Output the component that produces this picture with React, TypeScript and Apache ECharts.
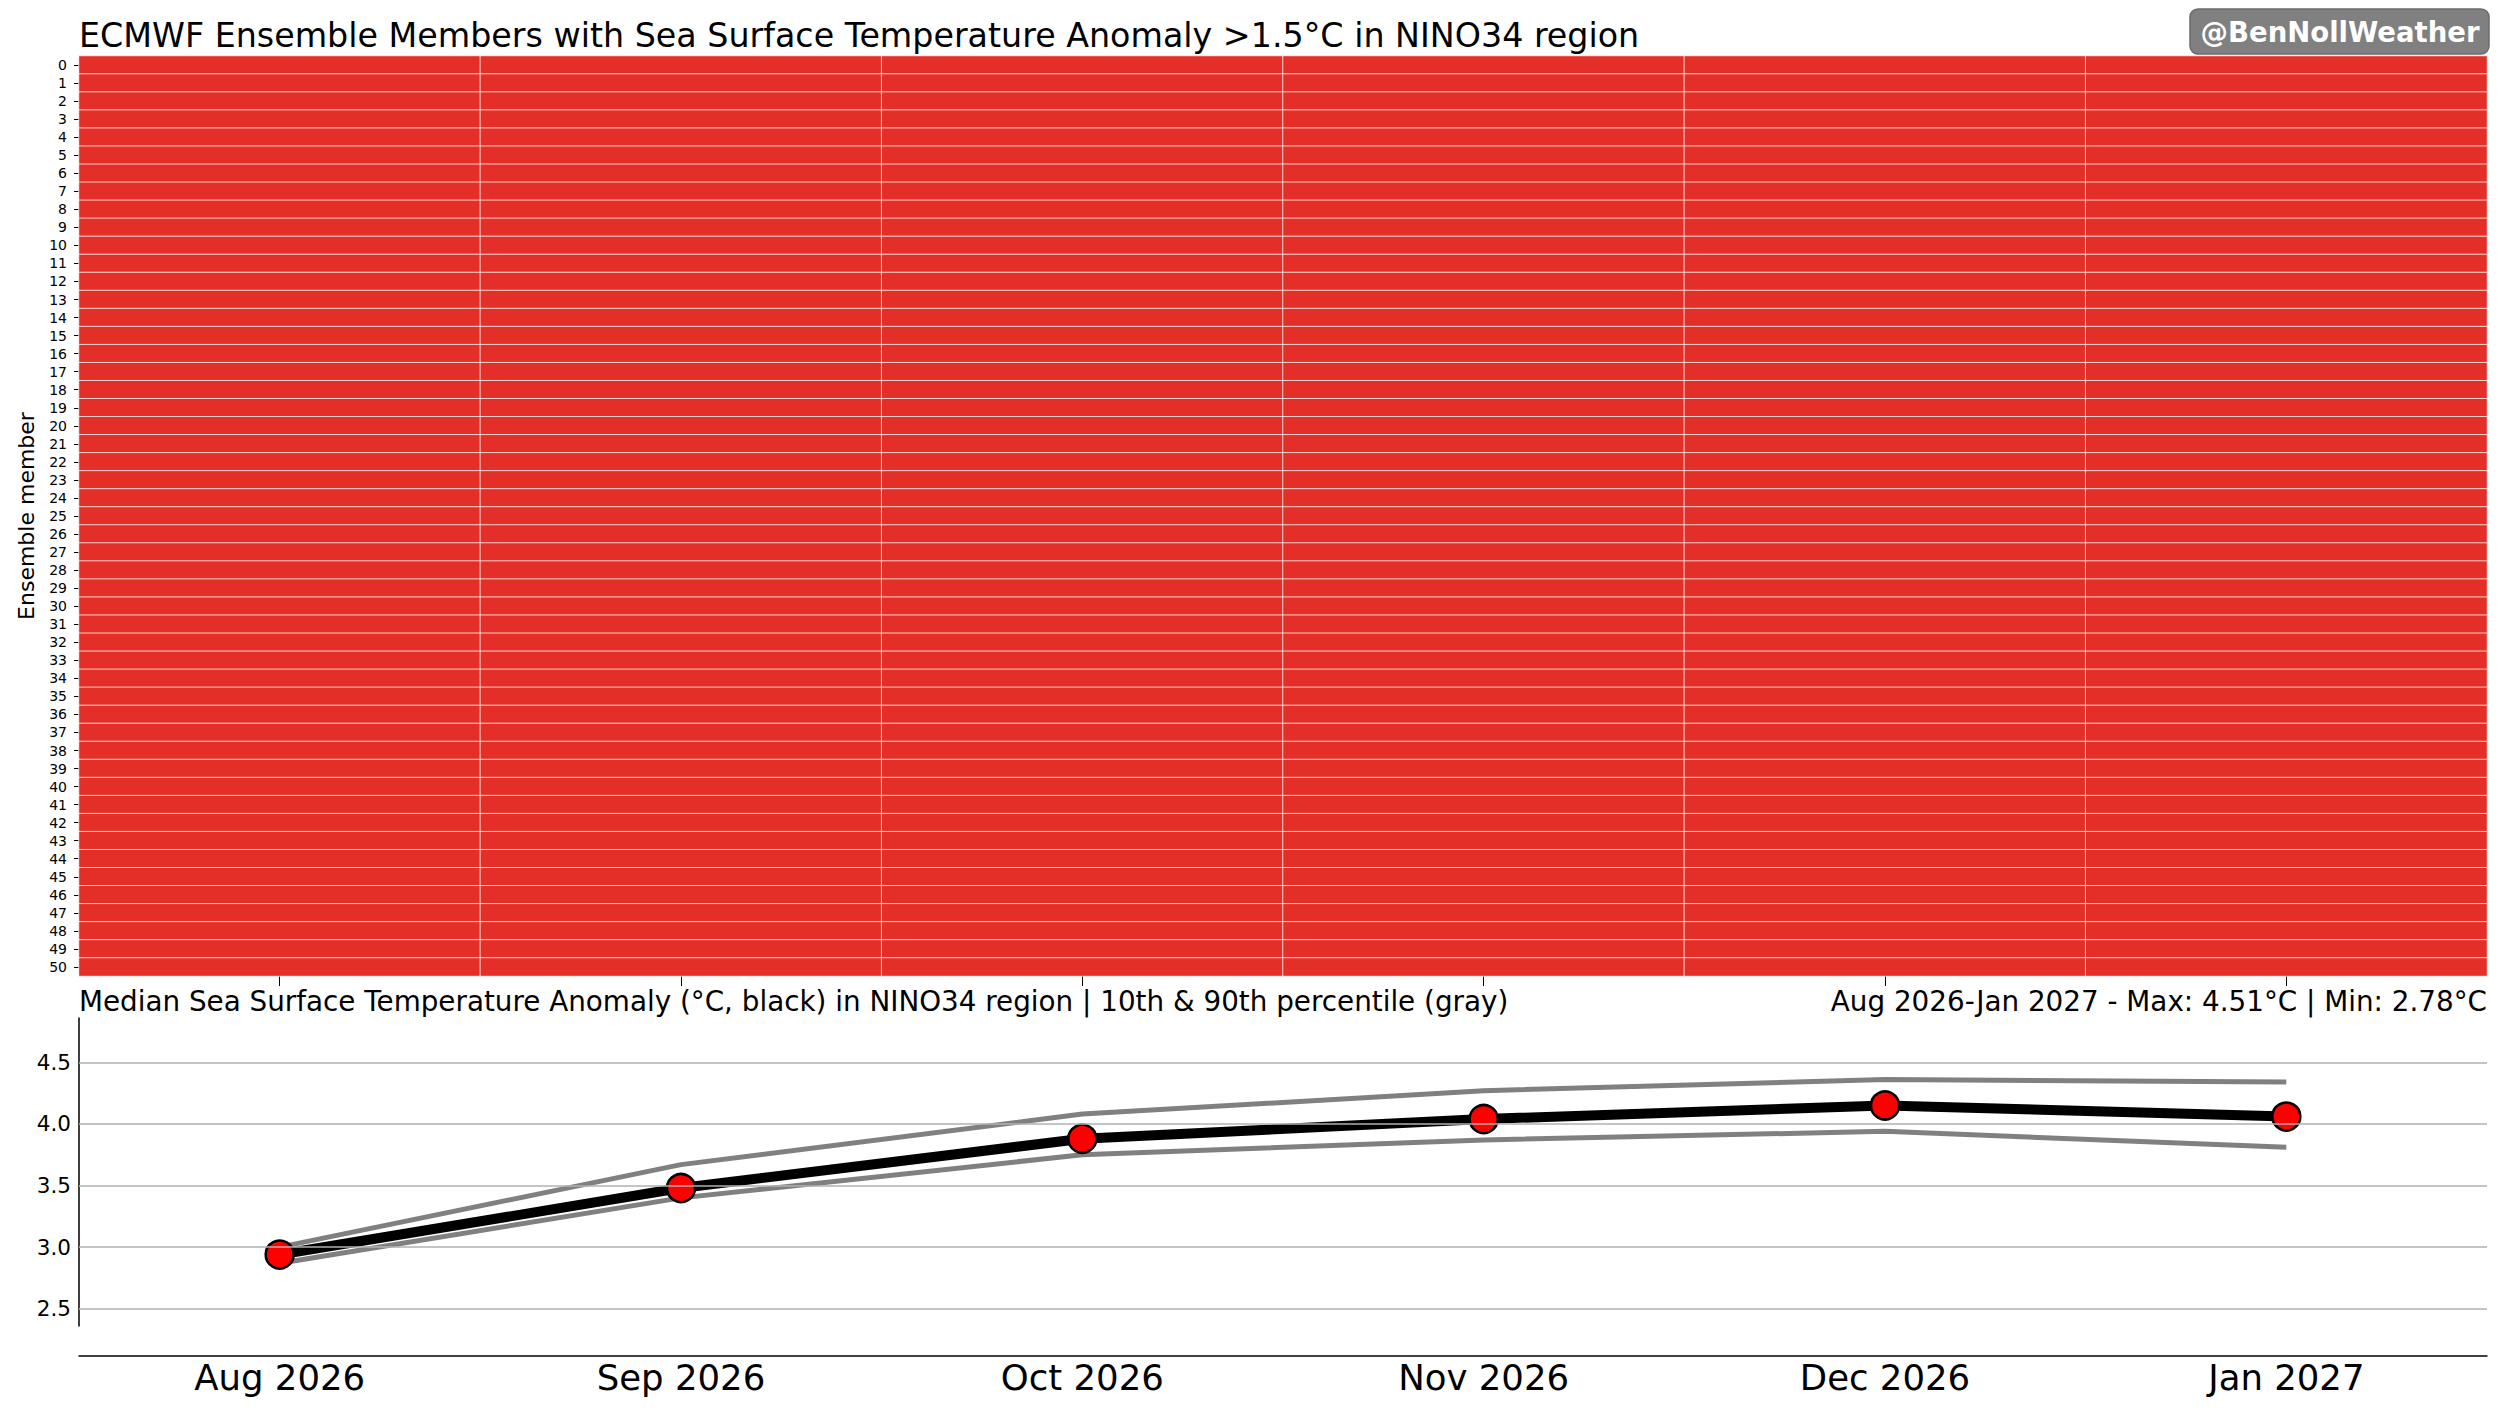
import React, { useEffect, useRef } from "react";
import * as echarts from "echarts";

const months = ["Aug 2026", "Sep 2026", "Oct 2026", "Nov 2026", "Dec 2026", "Jan 2027"];
const members = [
  "0", "1", "2", "3", "4", "5", "6", "7", "8", "9",
  "10", "11", "12", "13", "14", "15", "16", "17", "18", "19",
  "20", "21", "22", "23", "24", "25", "26", "27", "28", "29",
  "30", "31", "32", "33", "34", "35", "36", "37", "38", "39",
  "40", "41", "42", "43", "44", "45", "46", "47", "48", "49", "50",
];
// 1 = member exceeds +1.5°C in that month
const exceedance: number[][] = [
  [1, 1, 1, 1, 1, 1], [1, 1, 1, 1, 1, 1], [1, 1, 1, 1, 1, 1], [1, 1, 1, 1, 1, 1],
  [1, 1, 1, 1, 1, 1], [1, 1, 1, 1, 1, 1], [1, 1, 1, 1, 1, 1], [1, 1, 1, 1, 1, 1],
  [1, 1, 1, 1, 1, 1], [1, 1, 1, 1, 1, 1], [1, 1, 1, 1, 1, 1], [1, 1, 1, 1, 1, 1],
  [1, 1, 1, 1, 1, 1], [1, 1, 1, 1, 1, 1], [1, 1, 1, 1, 1, 1], [1, 1, 1, 1, 1, 1],
  [1, 1, 1, 1, 1, 1], [1, 1, 1, 1, 1, 1], [1, 1, 1, 1, 1, 1], [1, 1, 1, 1, 1, 1],
  [1, 1, 1, 1, 1, 1], [1, 1, 1, 1, 1, 1], [1, 1, 1, 1, 1, 1], [1, 1, 1, 1, 1, 1],
  [1, 1, 1, 1, 1, 1], [1, 1, 1, 1, 1, 1], [1, 1, 1, 1, 1, 1], [1, 1, 1, 1, 1, 1],
  [1, 1, 1, 1, 1, 1], [1, 1, 1, 1, 1, 1], [1, 1, 1, 1, 1, 1], [1, 1, 1, 1, 1, 1],
  [1, 1, 1, 1, 1, 1], [1, 1, 1, 1, 1, 1], [1, 1, 1, 1, 1, 1], [1, 1, 1, 1, 1, 1],
  [1, 1, 1, 1, 1, 1], [1, 1, 1, 1, 1, 1], [1, 1, 1, 1, 1, 1], [1, 1, 1, 1, 1, 1],
  [1, 1, 1, 1, 1, 1], [1, 1, 1, 1, 1, 1], [1, 1, 1, 1, 1, 1], [1, 1, 1, 1, 1, 1],
  [1, 1, 1, 1, 1, 1], [1, 1, 1, 1, 1, 1], [1, 1, 1, 1, 1, 1], [1, 1, 1, 1, 1, 1],
  [1, 1, 1, 1, 1, 1], [1, 1, 1, 1, 1, 1], [1, 1, 1, 1, 1, 1],
];
const medianSST = [2.94, 3.48, 3.88, 4.04, 4.15, 4.06];
const p10SST = [2.87, 3.4, 3.75, 3.87, 3.94, 3.81];
const p90SST = [3.0, 3.67, 4.08, 4.27, 4.36, 4.34];
const yTicks = [2.5, 3.0, 3.5, 4.0, 4.5];
const yMin = 2.36;
const yMax = 4.86;

const titleText = "ECMWF Ensemble Members with Sea Surface Temperature Anomaly >1.5°C in NINO34 region";
const subLeft = "Median Sea Surface Temperature Anomaly (°C, black) in NINO34 region | 10th & 90th percentile (gray)";
const subRight = "Aug 2026-Jan 2027 - Max: 4.51°C | Min: 2.78°C";
const badge = "@BenNollWeather";

const FONT = "'DejaVu Sans', 'Liberation Sans', sans-serif";

export default function App() {
  const ref = useRef<HTMLDivElement>(null);
  useEffect(() => {
    if (!ref.current) return;
    const chart = echarts.init(ref.current, null, { renderer: "svg" });
    const heatData: number[][] = [];
    exceedance.forEach((row, m) => {
      row.forEach((v, t) => heatData.push([t, m, v]));
    });
    const L = 79;
    const R = 2506 - 2487;
    chart.setOption({
      animation: false,
      textStyle: { fontFamily: FONT },
      grid: [
        { left: L, right: R, top: 56, height: 920 },
        { left: L, right: R, top: 1018, height: 308 },
      ],
      visualMap: {
        show: false,
        type: "piecewise",
        seriesIndex: 0,
        pieces: [
          { value: 1, color: "#e32f27" },
          { value: 0, color: "#ffffff" },
        ],
      },
      xAxis: [
        {
          gridIndex: 0,
          type: "category",
          data: months,
          axisLine: { show: false },
          axisTick: { show: true, alignWithLabel: true, length: 10, lineStyle: { color: "#000", width: 1 } },
          axisLabel: { show: false },
          splitLine: { show: false },
        },
        {
          gridIndex: 1,
          type: "category",
          data: months,
          boundaryGap: true,
          offset: 30,
          axisLine: { show: true, lineStyle: { color: "#000", width: 1.5 } },
          axisTick: { show: false },
          axisLabel: { color: "#000", fontSize: 35.5, fontFamily: FONT, margin: 3 },
          splitLine: { show: false },
        },
      ],
      yAxis: [
        {
          gridIndex: 0,
          type: "category",
          data: members,
          inverse: true,
          name: "Ensemble member",
          nameLocation: "middle",
          nameGap: 42,
          nameTextStyle: { color: "#000", fontSize: 22, fontFamily: FONT },
          axisLine: { show: false },
          axisTick: { show: true, alignWithLabel: true, length: 5, lineStyle: { color: "#000", width: 1 } },
          axisLabel: { color: "#000", fontSize: 14, interval: 0, margin: 12, fontFamily: FONT },
          splitLine: { show: false },
        },
        {
          gridIndex: 1,
          type: "value",
          min: yMin,
          max: yMax,
          axisLine: { show: true, lineStyle: { color: "#000", width: 1.5 } },
          axisTick: { show: false },
          axisLabel: { show: false },
          splitLine: { show: false },
        },
      ],
      series: [
        {
          type: "heatmap",
          xAxisIndex: 0,
          yAxisIndex: 0,
          data: heatData,
          itemStyle: { borderColor: "#ffffff", borderWidth: 0.75 },
          emphasis: { disabled: true },
        },
        {
          type: "line",
          name: "90th percentile",
          xAxisIndex: 1,
          yAxisIndex: 1,
          data: p90SST,
          symbol: "none",
          lineStyle: { color: "#808080", width: 5 },
          z: 2,
          markLine: {
            silent: true,
            symbol: ["none", "none"],
            animation: false,
            lineStyle: { type: "solid", color: "#b0b0b0", width: 1.5 },
            label: {
              show: true,
              position: "start",
              distance: 8,
              color: "#000",
              fontSize: 21.5,
              fontFamily: FONT,
              formatter: (p: any) => Number(p.value).toFixed(1),
            },
            data: yTicks.map((v) => ({ yAxis: v })),
          },
        },
        {
          type: "line",
          name: "10th percentile",
          xAxisIndex: 1,
          yAxisIndex: 1,
          data: p10SST,
          symbol: "none",
          lineStyle: { color: "#808080", width: 5 },
          z: 2,
        },
        {
          type: "line",
          name: "Median",
          xAxisIndex: 1,
          yAxisIndex: 1,
          data: medianSST,
          symbol: "circle",
          symbolSize: 28,
          showSymbol: true,
          lineStyle: { color: "#000", width: 10 },
          itemStyle: { color: "#ff0000", borderColor: "#000", borderWidth: 2.5 },
          z: 3,
        },
      ],
      graphic: [
        {
          type: "text",
          x: L,
          y: 35.5,
          style: { text: titleText, fill: "#000", font: `33.3px ${FONT}`, align: "left", verticalAlign: "middle" },
        },
        {
          type: "text",
          x: L,
          y: 1001,
          style: { text: subLeft, fill: "#000", font: `27.8px ${FONT}`, align: "left", verticalAlign: "middle" },
        },
        {
          type: "text",
          x: 2487,
          y: 1001,
          style: { text: subRight, fill: "#000", font: `27.8px ${FONT}`, align: "right", verticalAlign: "middle" },
        },
        {
          type: "rect",
          shape: { x: 2190, y: 9, width: 299, height: 45, r: 8 },
          style: { fill: "#808080", stroke: "#6b6b6b", lineWidth: 1.5 },
        },
        {
          type: "text",
          x: 2340,
          y: 31.5,
          style: { text: badge, fill: "#ffffff", font: `bold 27.5px ${FONT}`, align: "center", verticalAlign: "middle" },
        },
      ],
    });
    return () => chart.dispose();
  }, []);
  return (
    <div
      ref={ref}
      style={{ position: "fixed", left: 0, top: 0, width: 2506, height: 1413, background: "#fff" }}
    />
  );
}
